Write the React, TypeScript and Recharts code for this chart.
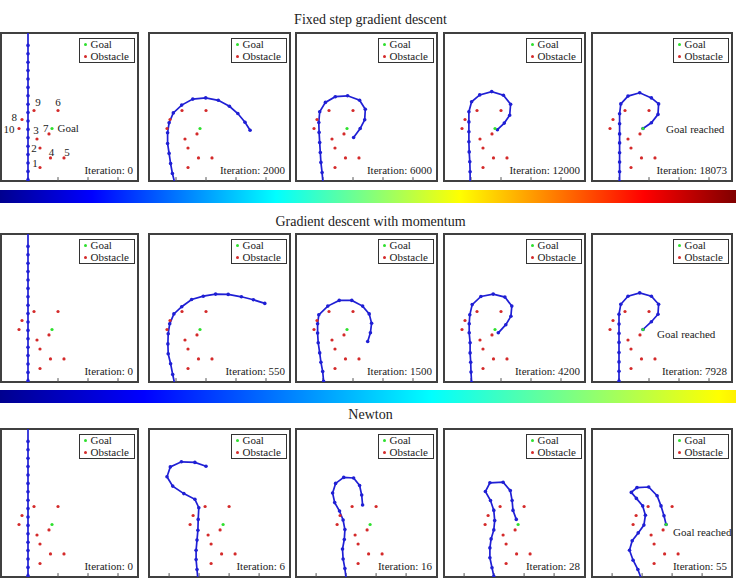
import React from 'react';
import {
  ScatterChart,
  Scatter,
  XAxis,
  YAxis,
  ReferenceArea,
  ReferenceLine,
  Legend,
  LabelList,
  BarChart,
  Bar,
} from 'recharts';

type Joint = { x: number; y: number };

const toJoints = (pts: number[][]): Joint[] => pts.map(([x, y]) => ({ x, y }));

// Target point and obstacles (identical in every panel)
const goal = [{ x: 0.8, y: 1.75 }];
const obstacles = [
  { x: 0.4, y: 0.45, id: '1' },
  { x: 0.4, y: 1.1, id: '2' },
  { x: 0.3, y: 1.4, id: '3' },
  { x: 0.75, y: 0.77, id: '4' },
  { x: 1.2, y: 0.77, id: '5' },
  { x: 1.0, y: 2.35, id: '6' },
  { x: 0.7, y: 1.57, id: '7' },
  { x: -0.2, y: 2.05, id: '8' },
  { x: 0.2, y: 2.35, id: '9' },
  { x: -0.3, y: 1.75, id: '10' },
];

// Snake joint positions, base first
const startPose = toJoints([
  [0, 0.04], [0, 0.32], [0, 0.6], [0, 0.88], [0, 1.16], [0, 1.44], [0, 1.72], [0, 2.0], [0, 2.28],
  [0, 2.56], [0, 2.84], [0, 3.12], [0, 3.4], [0, 3.68], [0, 3.96], [0, 4.24], [0, 4.52], [0, 5.1],
]);

const fixed2000 = toJoints([
  [-0.03, -0.11], [-0.12, 0.25], [-0.18, 0.58], [-0.23, 0.92], [-0.28, 1.25], [-0.28, 1.61],
  [-0.23, 1.94], [-0.09, 2.27], [0.19, 2.53], [0.56, 2.73], [0.99, 2.77], [1.41, 2.69],
  [1.78, 2.49], [2.06, 2.25], [2.3, 1.96], [2.47, 1.69],
]);
const fixed6000 = toJoints([
  [0, -0.07], [-0.03, 0.28], [-0.07, 0.62], [-0.09, 0.95], [-0.11, 1.28], [-0.13, 1.62],
  [-0.14, 1.95], [-0.11, 2.31], [0.08, 2.62], [0.41, 2.81], [0.82, 2.84], [1.22, 2.69],
  [1.41, 2.39], [1.39, 2.04], [1.24, 1.75], [1.02, 1.45],
]);
const fixed12000 = toJoints([
  [-0.03, -0.07], [-0.03, 0.31], [-0.04, 0.64], [-0.06, 0.97], [-0.07, 1.31], [-0.07, 1.64],
  [-0.07, 1.97], [-0.07, 2.31], [0.02, 2.64], [0.29, 2.87], [0.69, 2.98], [1.08, 2.86],
  [1.32, 2.56], [1.29, 2.19], [1.11, 1.93], [0.88, 1.71],
]);
const fixed18073 = toJoints([
  [0.02, -0.03], [0.02, 0.31], [0.02, 0.63], [0.02, 0.94], [0.02, 1.27], [0.02, 1.57],
  [0.02, 1.91], [0.02, 2.24], [0.06, 2.57], [0.3, 2.83], [0.69, 2.94], [1.08, 2.77],
  [1.32, 2.57], [1.3, 2.22], [1.08, 1.94], [0.8, 1.75],
]);

const momentum550 = toJoints([
  [-0.04, -0.08], [-0.11, 0.25], [-0.18, 0.61], [-0.26, 0.94], [-0.27, 1.27], [-0.26, 1.61],
  [-0.21, 1.94], [-0.07, 2.27], [0.19, 2.51], [0.52, 2.75], [0.91, 2.86], [1.32, 2.93],
  [1.74, 2.92], [2.18, 2.84], [2.58, 2.74], [2.96, 2.62],
]);
const momentum1500 = toJoints([
  [0.04, -0.3], [0.02, 0.02], [-0.01, 0.35], [-0.07, 0.66], [-0.11, 0.97], [-0.16, 1.31],
  [-0.18, 1.63], [-0.18, 1.94], [-0.14, 2.24], [0.16, 2.53], [0.54, 2.72], [0.96, 2.72],
  [1.32, 2.53], [1.54, 2.27], [1.62, 1.96], [1.58, 1.64], [1.49, 1.35],
]);
const momentum4200 = toJoints([
  [0.02, -0.01], [0, 0.33], [-0.01, 0.66], [-0.03, 0.97], [-0.03, 1.31], [-0.06, 1.64],
  [-0.06, 1.94], [-0.04, 2.24], [0.04, 2.58], [0.33, 2.85], [0.74, 2.93], [1.13, 2.83],
  [1.36, 2.53], [1.33, 2.19], [1.16, 1.91], [0.91, 1.64],
]);
const momentum7928 = toJoints([
  [0, 0.03], [0, 0.36], [0, 0.67], [0, 0.98], [0, 1.32], [0, 1.62], [0, 1.93], [0, 2.26],
  [0.06, 2.59], [0.3, 2.86], [0.69, 2.97], [1.08, 2.86], [1.32, 2.59], [1.3, 2.26],
  [1.08, 2.01], [0.8, 1.75],
]);

const newton6 = toJoints([
  [-0.04, -0.08], [-0.07, 0.25], [-0.1, 0.58], [-0.1, 0.89], [-0.07, 1.23], [-0.04, 1.56],
  [-0.03, 1.92], [-0.01, 2.31], [-0.14, 2.59], [-0.51, 2.78], [-0.88, 3.03], [-1.07, 3.34],
  [-0.96, 3.67], [-0.59, 3.84], [-0.14, 3.82], [0.23, 3.69],
]);
const newton16 = toJoints([
  [0, -0.05], [-0.04, 0.28], [-0.1, 0.6], [-0.12, 0.93], [-0.06, 1.25], [-0.04, 1.58],
  [-0.1, 1.9], [-0.22, 2.2], [-0.38, 2.48], [-0.45, 2.8], [-0.35, 3.12], [-0.08, 3.32],
  [0.25, 3.3], [0.45, 3.05], [0.52, 2.73], [0.55, 2.4],
]);
const newton28 = toJoints([
  [-0.01, 0.02], [-0.07, 0.31], [-0.14, 0.64], [-0.14, 0.97], [-0.1, 1.27], [-0.01, 1.57],
  [0.02, 1.88], [-0.01, 2.22], [-0.12, 2.55], [-0.29, 2.85], [-0.14, 3.14], [0.3, 3.16],
  [0.54, 2.88], [0.6, 2.55], [0.63, 2.22], [0.74, 1.92],
]);
const newton55 = toJoints([
  [-0.03, -0.05], [-0.14, 0.25], [-0.3, 0.56], [-0.42, 0.89], [-0.33, 1.21], [-0.13, 1.47],
  [0.06, 1.73], [0.11, 2.06], [0.02, 2.37], [-0.19, 2.62], [-0.36, 2.82], [-0.17, 2.98],
  [0.22, 3.0], [0.5, 2.71], [0.63, 2.37], [0.73, 2.04], [0.8, 1.75],
]);

const fixedIterations = [0, 2000, 6000, 12000, 18073];
const momentumIterations = [0, 550, 1500, 4200, 7928];
const newtonIterations = [0, 6, 16, 28, 55];

const rowTitles = ['Fixed step gradient descent', 'Gradient descent with momentum', 'Newton'];
const rowIterations = [fixedIterations, momentumIterations, newtonIterations];
const rowPoses = [
  [startPose, fixed2000, fixed6000, fixed12000, fixed18073],
  [startPose, momentum550, momentum1500, momentum4200, momentum7928],
  [startPose, newton6, newton16, newton28, newton55],
];

// layout
const SERIF = '"Liberation Serif", "Times New Roman", serif';
const PX = 30; // pixels per unit
const FRAME_H = 150;
const TICK_LEN = 0.13; // inward tick length, in data units
const ROW_TOPS = [32, 233, 428];
const TITLE_TOPS = [12, 214, 407];
const COL_LEFTS = [0, 148, 295, 443, 591];
const COL_WIDTHS = [139, 143, 143, 143, 142];
const BLUE = '#1f1fd4';
const RED = '#d42a2a';
const GREEN = '#2ee02e';
const FRAME = '#404040';
const LEGEND_W = 56;
const LEGEND_ROW = 12;

// where the index numbers sit around each obstacle (first panel only)
const numberOffsets = [
  [-5, -5], [-6, 0], [-1, -9], [1, -6], [3, -6], [0, -8.7], [-3.3, -6], [-7.7, -2.7], [4, -8.7], [-10, 0],
];

const JET: [number, string][] = [
  [0, '#00008f'], [0.125, '#0000ff'], [0.375, '#00ffff'], [0.625, '#ffff00'], [0.875, '#ff0000'], [1, '#800000'],
];

const dot = (color: string, r: number) => (props: any) =>
  props.cx == null ? <g /> : <circle cx={props.cx} cy={props.cy} r={r} fill={color} />;

const centerOf = (p: any) => {
  const vb = p.viewBox && typeof p.viewBox.x === 'number' ? p.viewBox : p;
  return { cx: vb.x + (vb.width || 0) / 2, cy: vb.y + (vb.height || 0) / 2 };
};

const textStyle = { fontFamily: SERIF, fontSize: 11, fill: '#222' };

const renderNumber = (props: any) => {
  const { cx, cy } = centerOf(props);
  const [dx, dy] = numberOffsets[props.index] || [0, -7];
  return (
    <text x={cx + dx} y={cy + dy} textAnchor="middle" dominantBaseline="central" style={textStyle}>
      {props.value}
    </text>
  );
};

const goalText = (text: string, dx: number, dy: number) => (props: any) => {
  const { cx, cy } = centerOf(props);
  return (
    <text x={cx + dx} y={cy + dy} textAnchor="start" dominantBaseline="central" style={textStyle}>
      {text}
    </text>
  );
};

const renderLegend = (props: any) => {
  const items = (props.payload || []).filter((p: any) => p.value === 'Goal' || p.value === 'Obstacle');
  return (
    <div
      style={{
        width: LEGEND_W,
        height: LEGEND_ROW * 2 + 1,
        boxSizing: 'border-box',
        border: '1px solid #333',
        background: '#fff',
        padding: '0 0 0 4px',
        fontFamily: SERIF,
        fontSize: 11,
        color: '#222',
      }}
    >
      {items.map((p: any) => (
        <div key={p.value} style={{ display: 'flex', alignItems: 'center', height: LEGEND_ROW - 0.5 }}>
          <span
            style={{
              width: 3,
              height: 3,
              borderRadius: '50%',
              background: p.value === 'Goal' ? GREEN : RED,
              marginRight: 3.5,
              flexShrink: 0,
            }}
          />
          <span style={{ lineHeight: `${LEGEND_ROW - 0.5}px` }}>{p.value}</span>
        </div>
      ))}
    </div>
  );
};

type PanelProps = {
  left: number;
  top: number;
  width: number;
  xMin: number;
  ticks: number[];
  joints: Joint[];
  iteration: number;
  numbered: boolean;
  reached: number[] | null;
};

function Panel({ left, top, width, xMin, ticks, joints, iteration, numbered, reached }: PanelProps) {
  const xMax = xMin + (width - 2) / PX;
  const yMax = (FRAME_H - 2) / PX;
  return (
    <div style={{ position: 'absolute', left, top, width, height: FRAME_H }}>
      <ScatterChart width={width} height={FRAME_H} margin={{ top: 1, right: 1, bottom: 1, left: 1 }}>
        <XAxis type="number" dataKey="x" domain={[xMin, xMax]} allowDataOverflow hide />
        <YAxis type="number" dataKey="y" domain={[0, yMax]} allowDataOverflow hide />
        {ticks.map((t) => (
          <ReferenceLine
            key={t}
            segment={[
              { x: t, y: 0 },
              { x: t, y: TICK_LEN },
            ]}
            stroke="#555"
            strokeWidth={1}
          />
        ))}
        <Scatter
          name="Snake"
          data={joints}
          legendType="none"
          fill={BLUE}
          line={{ stroke: BLUE, strokeWidth: 1.7 }}
          lineType="joint"
          shape={dot(BLUE, 1.8)}
          isAnimationActive={false}
        />
        <Scatter name="Goal" data={goal} fill={GREEN} shape={dot(GREEN, 1.6)} isAnimationActive={false}>
          {numbered && <LabelList dataKey="x" content={goalText('Goal', 5.5, -1)} />}
          {reached && <LabelList dataKey="x" content={goalText('Goal reached', reached[0], reached[1])} />}
        </Scatter>
        <Scatter name="Obstacle" data={obstacles} fill={RED} shape={dot(RED, 1.6)} isAnimationActive={false}>
          {numbered && <LabelList dataKey="id" content={renderNumber} />}
        </Scatter>
        <ReferenceArea
          x1={xMin}
          x2={xMax}
          y1={0}
          y2={yMax}
          fill="none"
          stroke={FRAME}
          strokeWidth={2}
          ifOverflow="visible"
        />
        <Legend
          layout="vertical"
          align="center"
          verticalAlign="middle"
          content={renderLegend}
          wrapperStyle={{ top: 6, right: 4, left: 'auto', width: LEGEND_W, height: LEGEND_ROW * 2 + 1 }}
        />
      </ScatterChart>
      <div
        style={{
          position: 'absolute',
          right: 6,
          bottom: 6,
          fontFamily: SERIF,
          fontSize: 11,
          lineHeight: '11px',
          color: '#222',
          whiteSpace: 'nowrap',
        }}
      >
        Iteration: {iteration}
      </div>
    </div>
  );
}

function ColorBar({ top, id, maxIter, jetEnd }: { top: number; id: string; maxIter: number; jetEnd: number }) {
  const stops = JET.filter(([t]) => t <= jetEnd).map(([t, c]) => [t / jetEnd, c] as [number, string]);
  if (jetEnd < 1) stops.push([1, '#fff000']);
  return (
    <div style={{ position: 'absolute', left: 0, top }}>
      <BarChart
        width={736}
        height={13}
        data={[{ name: 'iterations', value: maxIter }]}
        layout="vertical"
        margin={{ top: 0, right: 0, bottom: 0, left: 0 }}
        barCategoryGap={0}
      >
        <defs>
          <linearGradient id={id} x1="0" y1="0" x2="1" y2="0">
            {stops.map(([t, c]) => (
              <stop key={t} offset={t} stopColor={c} />
            ))}
          </linearGradient>
        </defs>
        <XAxis type="number" domain={[0, maxIter]} hide />
        <YAxis type="category" dataKey="name" hide />
        <Bar dataKey="value" fill={`url(#${id})`} isAnimationActive={false} />
      </BarChart>
    </div>
  );
}

export default function App() {
  return (
    <div
      style={{
        position: 'absolute',
        left: 0,
        top: 0,
        width: 741,
        height: 583,
        background: '#fff',
        overflow: 'hidden',
      }}
    >
      {rowTitles.map((title, r) => (
        <React.Fragment key={title}>
          <div
            style={{
              position: 'absolute',
              left: 0,
              top: TITLE_TOPS[r],
              width: 741,
              textAlign: 'center',
              fontFamily: SERIF,
              fontSize: 14,
              lineHeight: '16px',
              color: '#222',
            }}
          >
            {title}
          </div>
          {rowPoses[r].map((joints, c) => {
            const shifted = r === 2 && c > 0;
            return (
              <Panel
                key={c}
                left={COL_LEFTS[c]}
                top={ROW_TOPS[r]}
                width={COL_WIDTHS[c]}
                xMin={shifted ? -1.67 : -0.9}
                ticks={shifted ? [-1, 0, 1, 2] : [0, 1, 2, 3]}
                joints={joints}
                iteration={rowIterations[r][c]}
                numbered={r === 0 && c === 0}
                reached={c === 4 ? [[23, 0], [14, 4], [7, 7]][r] : null}
              />
            );
          })}
        </React.Fragment>
      ))}
      <ColorBar top={190} id="jetFixed" maxIter={fixedIterations[4]} jetEnd={1} />
      <ColorBar top={390} id="jetMomentum" maxIter={momentumIterations[4]} jetEnd={0.64} />
    </div>
  );
}
